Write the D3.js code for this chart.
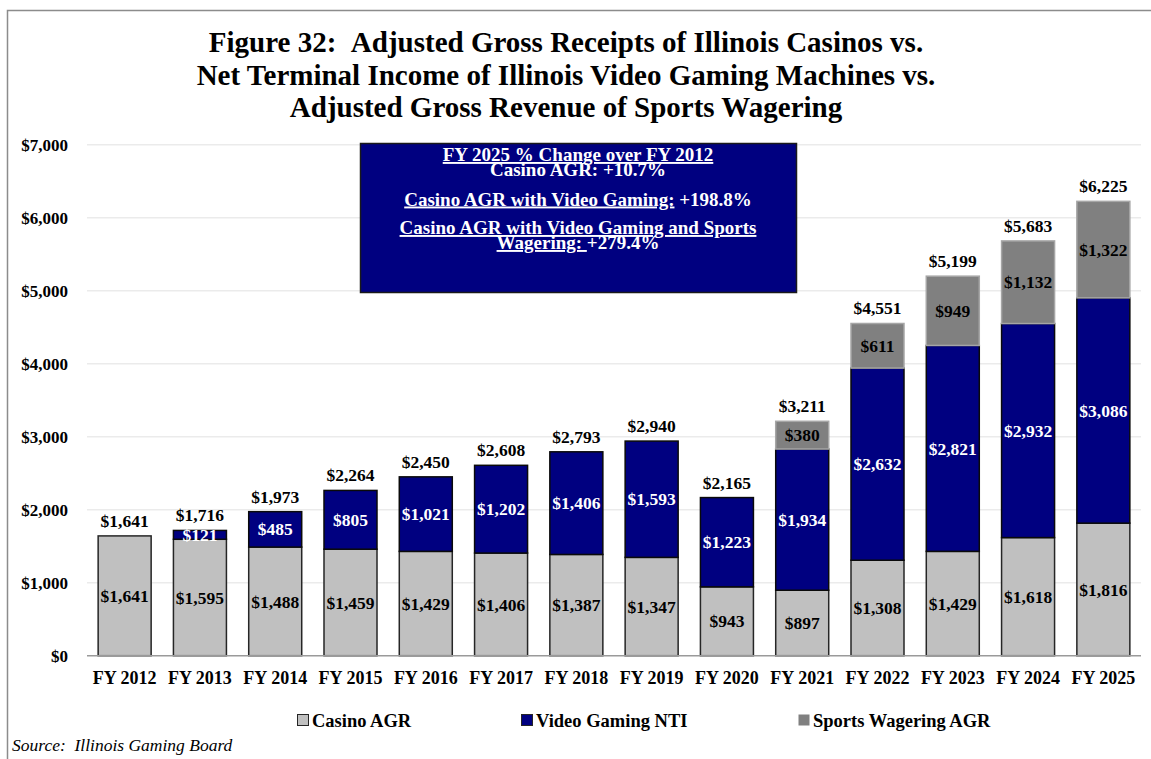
<!DOCTYPE html>
<html>
<head>
<meta charset="utf-8">
<script src="https://cdn.jsdelivr.net/npm/d3@7/dist/d3.min.js"></script>
<style>
  html, body { margin: 0; padding: 0; background: #fff; }
  svg { display: block; }
  text { font-family: "Liberation Serif", "Times New Roman", serif; }
</style>
</head>
<body>
<svg id="chart" width="1151" height="759"></svg>
<script>
// Fiscal years and component values ($ millions)
const years = ["FY 2012", "FY 2013", "FY 2014", "FY 2015", "FY 2016", "FY 2017", "FY 2018",
               "FY 2019", "FY 2020", "FY 2021", "FY 2022", "FY 2023", "FY 2024", "FY 2025"];
const casinoAGR = [1641, 1595, 1488, 1459, 1429, 1406, 1387, 1347, 943, 897, 1308, 1429, 1618, 1816];
const videoNTI  = [0, 121, 485, 805, 1021, 1202, 1406, 1593, 1223, 1934, 2632, 2821, 2932, 3086];
const sportsAGR = [0, 0, 0, 0, 0, 0, 0, 0, 0, 380, 611, 949, 1132, 1322];
// Reported totals (rounded in the source)
const totals    = [1641, 1716, 1973, 2264, 2450, 2608, 2793, 2940, 2165, 3211, 4551, 5199, 5683, 6225];
const yTicks    = [0, 1000, 2000, 3000, 4000, 5000, 6000, 7000];

const seriesKeys   = ["casino", "video", "sports"];
const seriesNames  = ["Casino AGR", "Video Gaming NTI", "Sports Wagering AGR"];
const seriesFill   = { casino: "#c0c0c0", video: "#000080", sports: "#808080" };
const seriesStroke = { casino: "#262626", video: "#0a0a0a", sports: "#a6a6a6" };
const labelColor   = { casino: "#000", video: "#fff", sports: "#000" };

const rows = years.map((y, i) => ({ year: y, casino: casinoAGR[i], video: videoNTI[i], sports: sportsAGR[i], total: totals[i] }));

const svg = d3.select("#chart");

// outer frame
svg.append("path")
  .attr("d", "M7.5,759 L7.5,10.5 L1151,10.5")
  .attr("fill", "none").attr("stroke", "#8c8c8c").attr("stroke-width", 1.5);

// title
const titleLines = [
  "Figure 32:\u00a0\u00a0Adjusted Gross Receipts of Illinois Casinos vs.",
  "Net Terminal Income of Illinois Video Gaming Machines vs.",
  "Adjusted Gross Revenue of Sports Wagering"
];
svg.append("g").selectAll("text").data(titleLines).join("text")
  .attr("x", 566).attr("y", (d, i) => 52 + i * 32.5)
  .attr("text-anchor", "middle")
  .attr("font-size", 29).attr("font-weight", "bold").attr("fill", "#000")
  .text(d => d);

const x = d3.scaleBand().domain(years).range([87, 1141]).paddingInner(0.296).paddingOuter(0.148);
const y = d3.scaleLinear().domain([0, 7000]).range([655.7, 144.7]);

// gridlines
svg.append("g").selectAll("line").data(yTicks.filter(t => t > 0)).join("line")
  .attr("x1", 87).attr("x2", 1141)
  .attr("y1", d => y(d)).attr("y2", d => y(d))
  .attr("stroke", "#ebebeb").attr("stroke-width", 1.5);

// y axis labels
const yAxis = d3.axisLeft(y).tickValues(yTicks).tickSize(0).tickPadding(0)
  .tickFormat(d => "$" + d3.format(",")(d));
const yg = svg.append("g").attr("transform", "translate(68,0)").call(yAxis);
yg.select(".domain").remove();
yg.selectAll("text").attr("font-family", "Liberation Serif, serif").attr("font-size", 17)
  .attr("font-weight", "bold").attr("fill", "#000");

// stacked bars
const stack = d3.stack().keys(seriesKeys);
const stacked = stack(rows);

const layers = svg.append("g").selectAll("g").data(stacked).join("g");
layers.selectAll("rect").data(s => s.map(d => ({ key: s.key, d })).filter(o => o.d[1] - o.d[0] > 0)).join("rect")
  .attr("x", o => x(o.d.data.year))
  .attr("width", x.bandwidth())
  .attr("y", o => y(o.d[1]))
  .attr("height", o => y(o.d[0]) - y(o.d[1]))
  .attr("fill", o => seriesFill[o.key])
  .attr("stroke", o => seriesStroke[o.key])
  .attr("stroke-width", 1.5);

// baseline
svg.append("line").attr("x1", 87).attr("x2", 1141).attr("y1", y(0)).attr("y2", y(0))
  .attr("stroke", "#9a9a9a").attr("stroke-width", 1.5);

// segment value labels
const segLabels = svg.append("g");
stacked.forEach(s => {
  segLabels.selectAll(null).data(s.filter(d => d[1] - d[0] > 0)).join("text")
    .attr("x", d => x(d.data.year) + x.bandwidth() / 2)
    .attr("y", d => y((d[0] + d[1]) / 2))
    .attr("dy", "0.35em")
    .attr("text-anchor", "middle")
    .attr("font-size", 17.5).attr("font-weight", "bold")
    .attr("fill", labelColor[s.key])
    .text(d => "$" + d3.format(",")(d[1] - d[0]));
});

// total labels above bars
svg.append("g").selectAll("text").data(rows).join("text")
  .attr("x", d => x(d.year) + x.bandwidth() / 2)
  .attr("y", d => y(d.casino + d.video + d.sports) - 9)
  .attr("text-anchor", "middle")
  .attr("font-size", 17.5).attr("font-weight", "bold").attr("fill", "#000")
  .text(d => "$" + d3.format(",")(d.total));

// x axis labels
const xAxis = d3.axisBottom(x).tickSize(0).tickPadding(0);
const xg = svg.append("g").attr("transform", "translate(0,671)").call(xAxis);
xg.select(".domain").remove();
xg.selectAll("text").attr("font-family", "Liberation Serif, serif").attr("font-size", 18)
  .attr("font-weight", "bold").attr("fill", "#000").attr("dy", "0.71em");

// summary box
svg.append("rect").attr("x", 360.5).attr("y", 143.5).attr("width", 436).attr("height", 149)
  .attr("fill", "#000080").attr("stroke", "#1a1a1a").attr("stroke-width", 1.5);

const boxCx = 578;
const boxLines = [
  { y: 161, parts: [{ t: "FY 2025 % Change over FY 2012", u: true }] },
  { y: 176, parts: [{ t: "Casino AGR: +10.7%", u: false }] },
  { y: 205.5, parts: [{ t: "Casino AGR with Video Gaming:", u: true }, { t: " +198.8%", u: false }] },
  { y: 234, parts: [{ t: "Casino AGR with Video Gaming and Sports", u: true }] },
  { y: 249, parts: [{ t: "Wagering: ", u: true }, { t: "+279.4%", u: false }] }
];
const boxG = svg.append("g");
boxLines.forEach(line => {
  const txt = boxG.append("text")
    .attr("x", boxCx).attr("y", line.y)
    .attr("text-anchor", "middle")
    .attr("font-size", 19).attr("font-weight", "bold").attr("fill", "#fff")
    .style("white-space", "pre");
  line.parts.forEach(p => {
    txt.append("tspan").attr("text-decoration", p.u ? "underline" : null).text(p.t);
  });
});

// legend
const legendX = [297, 521, 798];
const lg = svg.append("g").selectAll("g").data(seriesKeys).join("g")
  .attr("transform", (d, i) => `translate(${legendX[i]},714)`);
lg.append("rect").attr("x", 0.5).attr("y", 0.5).attr("width", 11).attr("height", 11)
  .attr("fill", d => seriesFill[d])
  .attr("stroke", d => d === "sports" ? "none" : "#262626").attr("stroke-width", 1);
lg.append("text").attr("x", 15).attr("y", 13)
  .attr("font-size", 18.5).attr("font-weight", "bold").attr("fill", "#000")
  .text((d, i) => seriesNames[i]);

// source note
svg.append("text").attr("x", 12).attr("y", 751)
  .attr("font-size", 17.5).attr("font-style", "italic").attr("fill", "#000")
  .style("white-space", "pre")
  .text("Source:  Illinois Gaming Board");
</script>
</body>
</html>
